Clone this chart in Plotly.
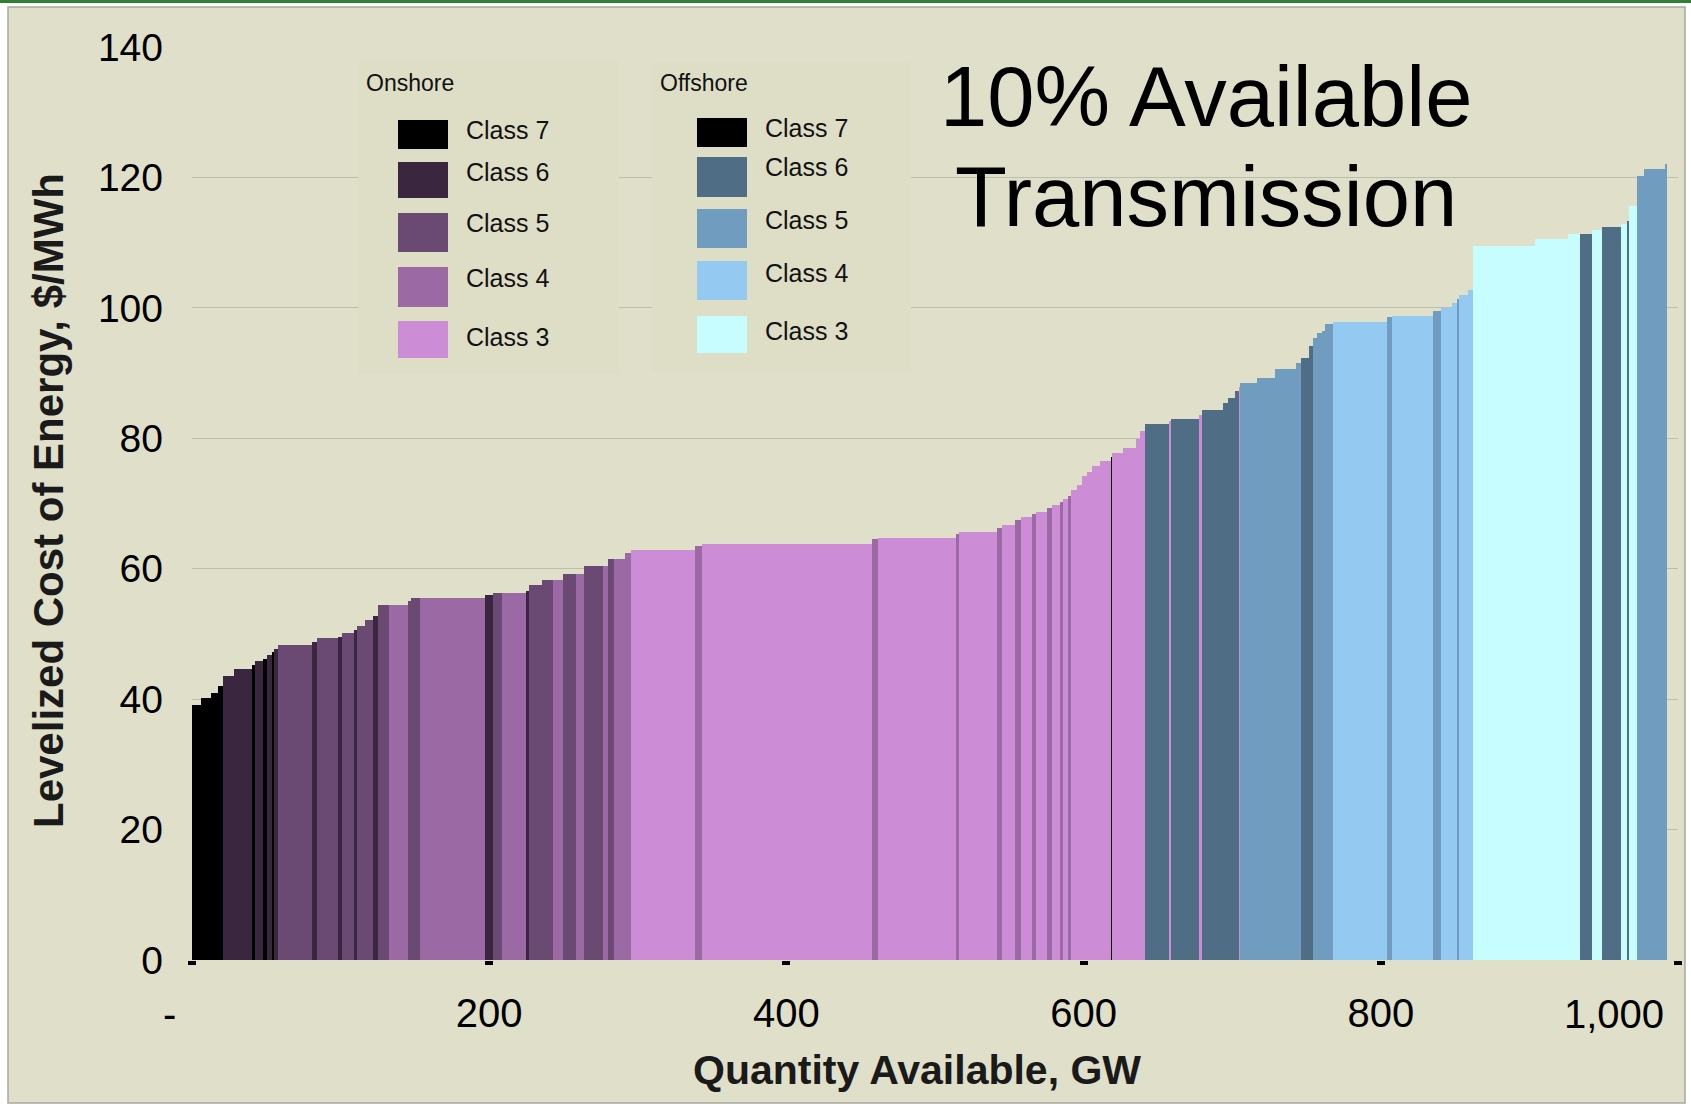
import numpy as np
import plotly.graph_objects as go

# ---- data ----
widths_gw = [6.06, 6.73, 4.51, 3.36, 7.81, 11.71, 2.22, 5.59, 2.29, 3.77,
             1.35, 2.69, 22.48, 3.36, 14.13, 2.69, 8.48, 1.62, 5.59, 5.59,
             3.36, 7.20, 12.58, 2.22, 6.06, 43.74, 5.59, 5.65, 16.35, 2.22,
             8.34, 7.81, 6.33, 8.95, 5.59, 12.38, 3.36, 4.44, 7.20, 4.04,
             43.07, 4.51, 114.4, 4.44, 52.09, 2.42, 25.17, 3.77, 8.55, 4.04,
             7.20, 2.69, 7.40, 3.36, 5.59, 1.82, 3.77, 1.62, 4.04, 3.36,
             3.77, 3.36, 5.18, 7.40, 0.87, 7.40, 8.55, 2.69, 3.36, 16.15,
             1.14, 19.25, 1.62, 14.13, 3.77, 4.51, 2.69, 0.67, 11.24, 12.31,
             13.93, 3.57, 5.59, 2.69, 2.29, 3.36, 2.22, 5.18, 36.34, 3.77,
             27.59, 4.98, 7.40, 3.36, 1.75, 6.06, 3.36, 41.52, 22.41, 7.87,
             7.87, 6.73, 12.79, 4.44, 1.35, 5.38, 4.51, 14.60, 0.67]

costs = [39.1, 40.1, 41.0, 42.0, 43.5, 44.6, 45.2, 45.8, 46.2, 46.8,
         47.3, 47.7, 48.3, 48.8, 49.3, 49.6, 50.2, 50.6, 51.2, 52.2,
         52.8, 54.5, 54.5, 55.0, 55.5, 55.5, 55.9, 56.3, 56.3, 56.6,
         57.5, 58.3, 58.3, 59.2, 59.2, 60.4, 60.4, 61.5, 61.5, 62.4,
         62.8, 63.5, 63.8, 64.5, 64.7, 65.4, 65.6, 66.2, 66.7, 67.4,
         67.9, 68.4, 68.7, 69.3, 69.7, 70.3, 70.7, 71.2, 72.1, 72.9,
         74.2, 74.9, 75.7, 76.5, 77.1, 77.7, 78.5, 79.9, 81.1, 82.2,
         82.6, 83.0, 83.6, 84.3, 85.4, 86.2, 87.3, 87.8, 88.5, 89.3,
         90.6, 91.6, 92.3, 94.1, 95.4, 96.1, 96.5, 97.6, 97.9, 98.6,
         98.8, 99.5, 100.0, 100.8, 101.4, 102.0, 102.8, 109.5, 110.5, 111.3,
         111.3, 112.0, 112.4, 112.8, 113.3, 115.6, 120.2, 121.3, 122.0]

classes = ["On7", "On7", "On7", "On7", "On6", "On6", "On7", "On6", "On7", "On6",
           "On7", "On6", "On5", "On6", "On5", "On6", "On5", "On6", "On5", "On5",
           "On6", "On5", "On4", "On5", "On5", "On4", "On6", "On5", "On4", "On6",
           "On5", "On5", "On4", "On5", "On4", "On5", "On4", "On5", "On4", "On4",
           "On3", "On4", "On3", "On4", "On3", "On4", "On3", "On4", "On3", "On4",
           "On3", "On4", "On3", "On4", "On3", "On4", "On3", "On4", "On3", "On3",
           "On3", "On3", "On3", "On3", "On7", "On3", "On3", "On3", "On3", "Off6",
           "On3", "Off6", "On3", "Off6", "Off6", "Off6", "Off6", "On3", "Off5", "Off5",
           "Off5", "Off5", "Off6", "Off6", "Off5", "Off5", "Off5", "Off5", "Off4", "Off5",
           "Off4", "Off5", "Off4", "Off4", "Off5", "Off4", "Off4", "Off3", "Off3", "Off3",
           "Off6", "Off3", "Off6", "Off3", "Off6", "Off3", "Off5", "Off5", "Off5"]

onshore_classes = ["On7", "On6", "On5", "On4", "On3"]
offshore_classes = ["Off7", "Off6", "Off5", "Off4", "Off3"]
class_labels = ["Class 7", "Class 6", "Class 5", "Class 4", "Class 3"]

x_tickvals = [0, 200, 400, 600, 800, 1000]
x_ticktext = ["", "200", "400", "600", "800", ""]
y_tickvals = [0, 20, 40, 60, 80, 100, 120, 140]

# ---- styles ----
colors = {
    "On7": "#000000", "On6": "#3b2640", "On5": "#6a4a72", "On4": "#9b6aa5", "On3": "#cc8cd6",
    "Off7": "#000000", "Off6": "#4f6e86", "Off5": "#709cbf", "Off4": "#94c9f2", "Off3": "#c8fdff",
}
FONT = "Liberation Sans, Arial, sans-serif"

w = np.array(widths_gw)
starts = np.concatenate([[0.0], np.cumsum(w)[:-1]])
mids = starts + w / 2
cls = np.array(classes)
vals = np.array(costs)

fig = go.Figure()
for code in onshore_classes + offshore_classes:
    m = cls == code
    if not m.any():
        continue
    grp = "Onshore" if code.startswith("On") else "Offshore"
    fig.add_trace(go.Bar(
        x=mids[m], y=vals[m], width=w[m],
        name=f"{grp} Class {code[-1]}",
        marker=dict(color=colors[code], line=dict(width=0)),
        showlegend=False,
        hovertemplate="%{x:.0f} GW: %{y:.1f} $/MWh<extra>" + f"{grp} Class {code[-1]}" + "</extra>",
    ))

W, H = 1691, 1110
L, R, T, B = 192, 13, 47, 150
PW, PH = W - L - R, H - T - B


def px(xf):
    return (xf - L) / PW


def py(yf):
    return (H - B - yf) / PH


shapes = []
ann = []
# outer frame
shapes.append(dict(type="rect", xref="paper", yref="paper", x0=px(8), x1=px(1685), y0=py(7), y1=py(1103),
                   fillcolor="#dfdfca", line=dict(color="#a9a99a", width=1.5), layer="below"))
shapes.append(dict(type="rect", xref="paper", yref="paper", x0=px(0), x1=px(W), y0=py(0), y1=py(3),
                   fillcolor="#2f7f34", line=dict(width=0), layer="below"))

# legend boxes
legend_specs = [
    ("Onshore", onshore_classes, (358, 619, 61, 374), 364, (398, 448),
     [(120, 149), (162, 198), (213, 252), (267, 307), (321, 358)], 464, [130, 172, 223, 278, 337]),
    ("Offshore", offshore_classes, (652, 911, 62, 371), 658, (697, 747),
     [(118, 147), (157, 197), (209, 248), (261, 300), (316, 353)], 763, [128, 167, 220, 273, 331]),
]
for title, codes, box, tx, (sx0, sx1), rows, lx, ly in legend_specs:
    shapes.append(dict(type="rect", xref="paper", yref="paper", x0=px(box[0]), x1=px(box[1]),
                       y0=py(box[2]), y1=py(box[3]), fillcolor="#dedec6", line=dict(width=0), layer="above"))
    ann.append(dict(text=title, xref="paper", yref="paper", x=px(tx), y=py(83), xanchor="left", yanchor="middle",
                    showarrow=False, font=dict(family=FONT, size=23, color="#111111")))
    for code, lab, (r0, r1), yl in zip(codes, class_labels, rows, ly):
        shapes.append(dict(type="rect", xref="paper", yref="paper", x0=px(sx0), x1=px(sx1),
                           y0=py(r0), y1=py(r1), fillcolor=colors[code], line=dict(width=0), layer="above"))
        ann.append(dict(text=lab, xref="paper", yref="paper", x=px(lx), y=py(yl), xanchor="left", yanchor="middle",
                        showarrow=False, font=dict(family=FONT, size=25, color="#111111")))

# big title (two lines)
for txt, yc in (("10% Available", 96), ("Transmission", 196)):
    ann.append(dict(text=txt, xref="paper", yref="paper", x=px(1206), y=py(yc),
                    xanchor="center", yanchor="middle", showarrow=False,
                    font=dict(family=FONT, size=85, color="#000000")))
# axis titles
ann.append(dict(text="<b>Quantity Available, GW</b>", xref="paper", yref="paper", x=px(917), y=py(1070),
                xanchor="center", yanchor="middle", showarrow=False,
                font=dict(family=FONT, size=41, color="#1a1a1a")))
ann.append(dict(text="<b>Levelized Cost of Energy, $/MWh</b>", xref="paper", yref="paper", x=px(48), y=py(501),
                xanchor="center", yanchor="middle", showarrow=False, textangle=-90,
                font=dict(family=FONT, size=42, color="#1a1a1a")))
# end tick labels
ann.append(dict(text="-", xref="x", yref="paper", x=0, y=py(1014), xshift=-23, xanchor="center",
                yanchor="middle", showarrow=False, font=dict(family=FONT, size=40, color="#000000")))
ann.append(dict(text="1,000", xref="x", yref="paper", x=1000, y=py(1014), xshift=-12, xanchor="right",
                yanchor="middle", showarrow=False, font=dict(family=FONT, size=40, color="#000000")))

fig.update_layout(
    template="none",
    width=W, height=H, autosize=False,
    margin=dict(l=L, r=R, t=T, b=B, pad=0),
    paper_bgcolor="#ffffff",
    plot_bgcolor="#e6e6d6",
    barmode="overlay",
    bargap=0,
    showlegend=False,
    shapes=shapes,
    annotations=ann,
    xaxis=dict(range=[0, 1000], tickvals=x_tickvals, ticktext=x_ticktext, showgrid=False, zeroline=False,
               showline=False, ticks="outside", ticklen=4, tickwidth=8, tickcolor="#000000",
               ticklabelstandoff=14, tickfont=dict(family=FONT, size=40, color="#000000")),
    yaxis=dict(range=[0, 140], tickvals=y_tickvals, showgrid=True, gridcolor="#bdbdae", gridwidth=1.3,
               zeroline=False, showline=False, ticks="", ticklabelstandoff=28,
               tickfont=dict(family=FONT, size=39, color="#000000")),
)

fig.write_html("out.html", include_plotlyjs=True, config={"displayModeBar": False},
               post_script="document.body.style.margin='0';document.body.style.overflow='hidden';")
